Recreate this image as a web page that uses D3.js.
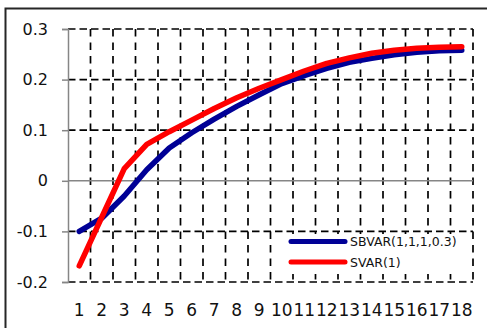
<!DOCTYPE html>
<html>
<head>
<meta charset="utf-8">
<script src="https://cdn.jsdelivr.net/npm/d3@7"></script>
<style>
  html, body { margin: 0; padding: 0; background: #fff; }
  svg { display: block; font-family: "DejaVu Sans", sans-serif; }
</style>
</head>
<body>
<svg id="chart" width="487" height="328"></svg>
<script>
// Horizons 1..18
const categories = d3.range(1, 19).map(String);

// Impulse responses of the two models
const sbvarValues = [-0.100, -0.074, -0.030, 0.022, 0.065, 0.095, 0.122, 0.147, 0.170,
                     0.192, 0.208, 0.222, 0.234, 0.242, 0.249, 0.254, 0.257, 0.258];
const svarValues  = [-0.168, -0.072, 0.024, 0.072, 0.097, 0.120, 0.143, 0.164, 0.183,
                     0.200, 0.217, 0.232, 0.243, 0.252, 0.258, 0.262, 0.264, 0.265];

const yTicks = [-0.2, -0.1, 0, 0.1, 0.2, 0.3];
const yTickLabels = ["-0.2", "-0.1", "0", "0.1", "0.2", "0.3"];

const seriesNames = ["SBVAR(1,1,1,0.3)", "SVAR(1)"];
const seriesColors = ["#000096", "#ff0000"];

const svg = d3.select("#chart");
const plot = { left: 68, right: 473, top: 29, bottom: 282 };

const x = d3.scaleBand().domain(categories).range([plot.left, plot.right]);
const y = d3.scaleLinear().domain([-0.2, 0.3]).range([plot.bottom, plot.top]);

// Outer frame
svg.append("rect")
  .attr("x", 5.5).attr("y", 8.5)
  .attr("width", 520).attr("height", 400)
  .attr("fill", "none").attr("stroke", "#262626").attr("stroke-width", 2);

// Horizontal gridlines (dashed), except the zero axis
svg.append("g").selectAll("line")
  .data(yTicks.filter(v => v !== 0))
  .join("line")
  .attr("x1", plot.left).attr("x2", plot.right)
  .attr("y1", d => y(d)).attr("y2", d => y(d))
  .attr("stroke", "#000").attr("stroke-width", 1.7)
  .attr("stroke-dasharray", "7.5,4");

// Vertical gridlines at category boundaries
svg.append("g").selectAll("line")
  .data(categories)
  .join("line")
  .attr("x1", d => x(d) + x.bandwidth()).attr("x2", d => x(d) + x.bandwidth())
  .attr("y1", plot.top).attr("y2", plot.bottom)
  .attr("stroke", "#000").attr("stroke-width", 1.7)
  .attr("stroke-dasharray", "7.5,6");

// Y axis
const yAxis = svg.append("g")
  .attr("transform", `translate(${plot.left},0)`)
  .call(d3.axisLeft(y).tickValues(yTicks)
    .tickFormat((d, i) => yTickLabels[i])
    .tickSize(6).tickPadding(14));
yAxis.select(".domain").attr("stroke", "#868686").attr("stroke-width", 1.5);
yAxis.selectAll(".tick line").attr("stroke", "#868686").attr("stroke-width", 1.5);
yAxis.selectAll(".tick text")
  .attr("font-family", "DejaVu Sans, sans-serif")
  .attr("font-size", 16).attr("fill", "#111");

// Zero line
svg.append("line")
  .attr("x1", plot.left).attr("x2", plot.right)
  .attr("y1", y(0)).attr("y2", y(0))
  .attr("stroke", "#868686").attr("stroke-width", 1.5);

// X labels along the bottom
const xAxis = svg.append("g")
  .attr("transform", `translate(0,${plot.bottom})`)
  .call(d3.axisBottom(x).tickSize(0).tickPadding(22));
xAxis.select(".domain").remove();
xAxis.selectAll(".tick text")
  .attr("font-family", "DejaVu Sans, sans-serif")
  .attr("font-size", 17).attr("fill", "#111");

// Lines
const line = d3.line()
  .x((d, i) => x(categories[i]) + x.bandwidth() / 2)
  .y(d => y(d));

[sbvarValues, svarValues].forEach((vals, k) => {
  svg.append("path")
    .datum(vals)
    .attr("d", line)
    .attr("fill", "none")
    .attr("stroke", seriesColors[k])
    .attr("stroke-width", 5.5)
    .attr("stroke-linecap", "round")
    .attr("stroke-linejoin", "round");
});

// Legend (white box hides the grid behind the entries)
svg.append("rect")
  .attr("x", 282).attr("y", 234)
  .attr("width", 182).attr("height", 40)
  .attr("fill", "#fff");
const legend = svg.append("g").attr("transform", "translate(291,241.5)");
seriesNames.forEach((name, k) => {
  const g = legend.append("g").attr("transform", `translate(0,${k * 20.5})`);
  g.append("line")
    .attr("x1", 0).attr("x2", 54)
    .attr("stroke", seriesColors[k]).attr("stroke-width", 5)
    .attr("stroke-linecap", "round");
  g.append("text")
    .attr("x", 59).attr("y", 4.5)
    .attr("font-size", 12.5).attr("fill", "#111")
    .text(name);
});
</script>
</body>
</html>
